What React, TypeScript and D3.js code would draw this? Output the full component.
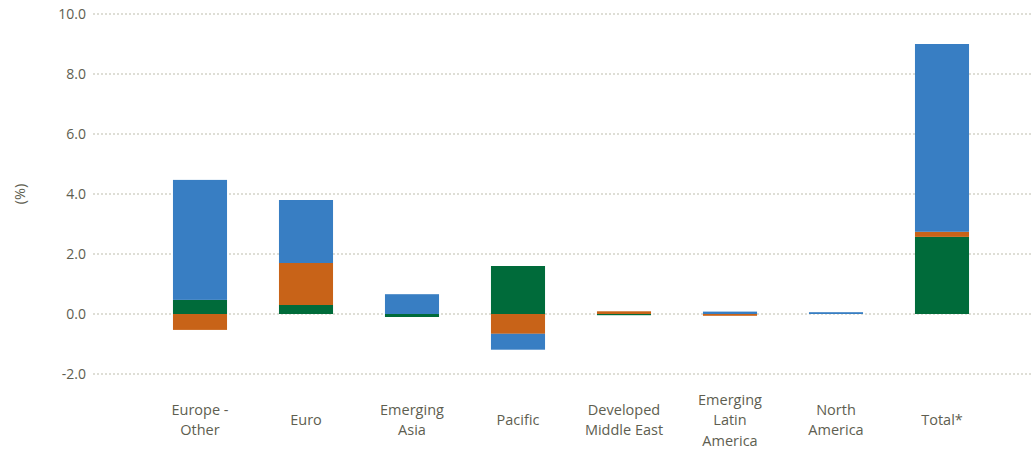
import React from "react";
import * as d3 from "d3";

// Regions shown along the x axis (multi-line labels split on "\n")
const categories = [
  "Europe -\nOther",
  "Euro",
  "Emerging\nAsia",
  "Pacific",
  "Developed\nMiddle East",
  "Emerging\nLatin\nAmerica",
  "North\nAmerica",
  "Total*",
];

// Stacked contributions (%) per region, in stacking order
const greenValues = [0.47, 0.3, -0.1, 1.6, -0.04, 0.0, 0.0, 2.57];
const orangeValues = [-0.53, 1.4, 0.0, -0.66, 0.09, -0.06, 0.0, 0.17];
const blueValues = [4.0, 2.1, 0.66, -0.53, 0.0, 0.08, 0.06, 6.26];

const yTicks = [-2, 0, 2, 4, 6, 8, 10];

const seriesKeys = ["green", "orange", "blue"];
const seriesColors: Record<string, string> = {
  green: "#006B3A",
  orange: "#C86318",
  blue: "#387EC3",
};

const W = 1031;
const H = 449;
const TEXT = "#5E5E50";
const FONT = "'Open Sans', sans-serif";

export default function App() {
  const rows = categories.map((c, i) => ({
    cat: c,
    green: greenValues[i],
    orange: orangeValues[i],
    blue: blueValues[i],
  }));

  const stack = d3
    .stack<any>()
    .keys(seriesKeys)
    .offset(d3.stackOffsetDiverging);
  const layers = stack(rows);

  const x = d3
    .scaleBand<string>()
    .domain(categories)
    .range([147, 995])
    .paddingInner(0.49)
    .paddingOuter(0.245);

  const y = d3.scaleLinear().domain([-2, 10]).range([374, 14]);

  return (
    <svg
      width={W}
      height={H}
      style={{ position: "absolute", left: 0, top: 0, background: "#fff" }}
      fontFamily={FONT}
    >
      {/* gridlines */}
      {yTicks.map((t) => (
        <line
          key={"g" + t}
          x1={93}
          x2={1031}
          y1={y(t)}
          y2={y(t)}
          stroke="#DEDED6"
          strokeWidth={2}
          strokeDasharray="2 2"
        />
      ))}
      {/* y tick labels */}
      {yTicks.map((t) => (
        <text
          key={"t" + t}
          x={86}
          y={y(t)}
          dy="0.35em"
          textAnchor="end"
          fontSize={14}
          fill={TEXT}
        >
          {t.toFixed(1)}
        </text>
      ))}
      {/* axis title */}
      <text
        transform={`translate(20, ${y(4)}) rotate(-90)`}
        textAnchor="middle"
        dy="0.35em"
        fontSize={14.5}
        fill={TEXT}
      >
        (%)
      </text>
      {/* stacked bars */}
      {layers.map((layer) => (
        <g key={layer.key} fill={seriesColors[layer.key]}>
          {layer.map((d, i) => {
            const top = y(Math.max(d[0], d[1]));
            const bot = y(Math.min(d[0], d[1]));
            if (bot - top <= 0) return null;
            return (
              <rect
                key={i}
                x={x(categories[i])}
                width={x.bandwidth()}
                y={top}
                height={bot - top}
              />
            );
          })}
        </g>
      ))}
      {/* category labels */}
      {categories.map((c) => {
        const lines = c.split("\n");
        const cx = (x(c) as number) + x.bandwidth() / 2;
        const lh = 20.5;
        const start = 420 - ((lines.length - 1) * lh) / 2;
        return (
          <text key={c} textAnchor="middle" fontSize={14.5} fill={TEXT}>
            {lines.map((l, j) => (
              <tspan key={j} x={cx} y={start + j * lh} dy="0.35em">
                {l}
              </tspan>
            ))}
          </text>
        );
      })}
    </svg>
  );
}
